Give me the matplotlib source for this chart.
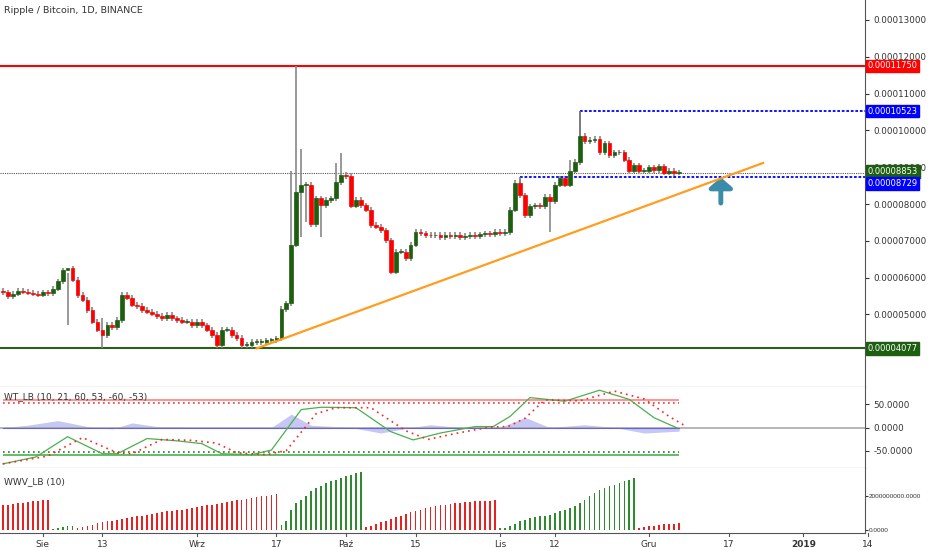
import matplotlib
matplotlib.use("Agg")
import matplotlib.pyplot as plt
import numpy as np

# ---- data (prices in 1e-8 BTC, day index 0 = Jul 24 2018) ----
closes = [5600,5500,5560,5650,5620,5590,5560,5540,
          5600,5580,5700,5900,6200,6250,5940,5530,5400,5120,
          4800,4580,4440,4720,4650,4850,5530,5450,5260,5230,
          5120,5070,5020,4960,4900,4990,4900,4850,4800,4800,4710,
          4800,4710,4580,4440,4170,4580,4580,4440,4360,4170,
          4170,4250,4250,4250,4300,4300,4350,5150,5300,6890,
          8330,8520,8520,7450,8160,7970,8110,8160,8600,8790,
          8760,7950,8110,7970,7840,7430,7380,7290,7020,6160,
          6700,6700,6530,6890,7240,7200,7160,7150,7160,7100,
          7160,7130,7160,7100,7130,7160,7120,7180,7200,7180,7240,
          7200,7240,7840,8570,8240,7700,7940,7970,7940,8190,
          8080,8520,8700,8520,8900,9140,9850,9700,9740,9780,
          9400,9650,9320,9400,9400,9200,8900,9050,8900,8900,
          9000,8920,9020,8850,8900,8853,8860]
first_open = 5650
high_override = {59: 11750, 60: 9500, 58: 8900, 68: 9380, 67: 9115, 116: 10523, 114: 9200, 13: 4700, 20: 4900}
low_override = {20: 4077, 49: 4077, 60: 7100, 61: 7500, 110: 7240, 64: 7100, 135: 8700}
default_wick = 70

wt_days = [0,6.6,13,20,23,29,35,40,44,50,54,60,64,71,78,82.5,88,95,98.6,102,106,113,120,126,131,135.6]
wt1 = [-79,-64,-20,-57,-57,-24,-29,-35,-57,-59,-49,39,44,43,-9,-27,-12,2,2,24,65,57,81,61,21,-1]
wt2_days = [0,9,16,23,26,32,38,43,47,53,57,63,67,74,81,85.5,91,98,101.6,105,109,116,123,129,134,137]
wt2 = [-79,-62,-22,-55,-57,-26,-28,-34,-55,-59,-50,30,43,43,-7,-26,-13,1,2,20,60,58,79,62,24,5]
blue_days = [0,5,11,18,22,26,31,40,50,54,58,62,70,76,82,86,92,100,105,110,117,123,129,136]
blue_vals = [0,5,15,0,-3,10,2,0,-2,0,29,5,0,-12,0,6,0,0,22,0,6,0,-12,-8]

wwv = [1.45,1.5,1.55,1.6,1.62,1.65,1.7,1.72,1.75,1.8,
       0.05,0.1,0.15,0.2,0.25,
       0.1,0.15,0.2,0.3,0.4,0.45,0.5,0.55,0.6,0.65,0.7,0.75,0.8,0.85,0.9,0.95,
       1.0,1.05,1.1,1.12,1.15,1.2,1.25,1.3,1.35,1.4,
       1.45,1.5,1.55,1.6,1.65,1.7,1.75,1.8,1.85,1.9,
       1.95,2.0,2.05,2.1,2.17,
       0.3,0.5,1.2,1.6,1.8,2.0,2.3,2.5,2.6,2.8,2.9,3.0,3.1,3.2,3.3,3.4,3.45,
       0.15,0.25,0.35,0.45,0.55,0.65,0.75,0.85,0.95,1.05,1.1,1.2,1.3,1.35,1.4,1.45,1.5,1.55,1.6,1.6,1.65,1.68,1.7,1.72,1.73,1.74,1.76,
       0.08,0.12,0.2,0.35,0.5,0.6,0.7,0.75,0.8,0.85,0.9,1.0,1.1,1.2,1.3,1.4,1.6,1.8,2.0,2.2,2.4,2.5,2.6,2.7,2.8,2.9,3.0,3.1,
       0.1,0.15,0.2,0.25,0.3,0.32,0.35,0.37,0.4]
wwv_sign = ['r']*10 + ['g']*5 + ['r']*41 + ['g']*17 + ['r']*27 + ['g']*28 + ['r']*9

tick_days = [8,20,39,55,69,83,100,111,130,146,161,174]
tick_labels = ['Sie','13','Wrz','17','Paź','15','Lis','12','Gru','17','2019','14']

level_red = 11750
level_green = 4077
level_last = 8853
level_blue_hi = 10523
level_blue_lo = 8729
trend_pts = ([51, 152.9], [4077, 9115])

# ---- figure ----
W, H = 932, 550
fig = plt.figure(figsize=(W/100, H/100), dpi=100)
fig.patch.set_facecolor('white')
R = 865
def ax_at(top, bottom):
    return fig.add_axes([0, 1-bottom/H, R/W, (bottom-top)/H])

ax = ax_at(0, 387)
ax2 = ax_at(387, 468)
ax3 = ax_at(468, 533)
xl = (-0.6, 173.4)
GREEN = '#1d5e10'; RED = '#ff0000'
for a in (ax, ax2, ax3):
    a.set_xlim(*xl)
    a.set_xticks([])
    for s in ('left', 'top'):
        a.spines[s].set_visible(False)
    a.spines['right'].set_color('#555555')
    a.spines['bottom'].set_color('#555555')
    a.yaxis.tick_right()
    a.tick_params(axis='y', labelsize=6.3, colors='#333333', length=3, pad=3)

# candles
sc = 1e-8
opens = [first_open] + closes[:-1]
for i, (o, c) in enumerate(zip(opens, closes)):
    hi = high_override.get(i, max(o, c) + default_wick)
    lo = low_override.get(i, min(o, c) - default_wick)
    col = GREEN if c >= o else RED
    ax.vlines(i, lo*sc, hi*sc, color='#888888', lw=1.2, zorder=2)
    b0, b1 = min(o, c), max(o, c)
    if b1 - b0 < 20:
        b1 = b0 + 20
    ax.bar(i, (b1-b0)*sc, bottom=b0*sc, width=0.75, color=col, edgecolor=col, lw=0.5, zorder=3)

ax.set_ylim(3029*sc, 13543*sc)
ax.set_yticks([v*sc for v in range(5000, 13001, 1000)])
ax.set_yticklabels(['%.8f' % (v*sc) for v in range(5000, 13001, 1000)])
ax.axhline(level_red*sc, color='#ff0000', lw=1.5, zorder=1)
ax.axhline(level_green*sc, color='#2b5e1a', lw=1.5, zorder=1)
ax.axhline(level_last*sc, color='#555555', lw=0.8, ls=(0, (1, 1)), zorder=1)
ax.hlines(level_blue_hi*sc, 116, xl[1], color='#0000ff', lw=1.3, ls=(0, (1.5, 1)))
ax.vlines(116, 9750*sc, level_blue_hi*sc, color='#777777', lw=1.2)
ax.hlines(level_blue_lo*sc, 104, xl[1], color='#0000ff', lw=1.3, ls=(0, (1.5, 1)))
ax.vlines(104, 8450*sc, level_blue_lo*sc, color='#777777', lw=1.2)
ax.plot(trend_pts[0], [v*sc for v in trend_pts[1]], color='#ff9d1f', lw=1.6, zorder=4)
ax.annotate('', xy=(144.4, 8800*sc), xytext=(144.4, 7950*sc),
            arrowprops=dict(arrowstyle='-|>,head_width=0.7,head_length=0.6', color='#3b8ca8', lw=3.5))
ax.text(0.005, 0.985, 'Ripple / Bitcoin, 1D, BINANCE', transform=ax.transAxes,
        fontsize=6.8, color='#333333', va='top', ha='left')
for lvl, ypos, colr in [(level_red, level_red, '#ff0000'), (level_blue_hi, level_blue_hi, '#0000ff'),
                        (level_last, 8880, '#1d5e10'), (level_blue_lo, 8560, '#0000ff'),
                        (level_green, level_green, '#1d5e10')]:
    ax.text(1.003, ypos*sc, '%.8f' % (lvl*sc), transform=ax.get_yaxis_transform(),
            fontsize=6.0, color='white', va='center', ha='left',
            bbox=dict(boxstyle='square,pad=0.2', fc=colr, ec=colr), clip_on=False, zorder=10)

# WT panel
ax2.set_ylim(-88, 88)
ax2.set_yticks([-50, 0, 50])
ax2.set_yticklabels(['-50.0000', '0.0000', '50.0000'])
ax2.fill_between(blue_days, 0, blue_vals, color='#9999ee', alpha=0.55, lw=0)
ax2.axhline(0, color='#aaaaaa', lw=1.2)
ax2.plot([0, 136], [0, 0], color='#6666cc', lw=0.8)
ax2.hlines(60, 0, 136, color='#ff8080', lw=1.2)
ax2.hlines(53, 0, 136, color='#ff3030', lw=1.2, ls=(0, (1, 2)))
ax2.hlines(-60, 0, 136, color='#4caf50', lw=1.2)
ax2.hlines(-53, 0, 136, color='#208020', lw=1.2, ls=(0, (1, 2)))
ax2.plot(wt_days, wt1, color='#4caf50', lw=0.9)
ax2.plot(wt2_days, wt2, color='#ff2020', lw=1.2, ls=(0, (1, 2.5)))
ax2.text(0.005, 0.94, 'WT_LB (10, 21, 60, 53, -60, -53)', transform=ax2.transAxes,
         fontsize=6.5, color='#333333', va='top')

# WWV panel
days = np.arange(len(wwv))
cols = ['#e82020' if s == 'r' else '#2e8b2e' for s in wwv_sign]
ax3.bar(days, [v*1e9 for v in wwv], width=0.35, color=cols)
ax3.set_ylim(-0.2e9, 3.7e9)
ax3.set_yticks([0, 2e9])
ax3.set_yticklabels(['0.0000', '2000000000.0000'])
ax3.tick_params(axis='y', pad=0.5, length=2)
for t in ax3.get_yticklabels():
    t.set_fontsize(4.6)
    t.set_fontfamily('Liberation Sans')
ax3.text(0.005, 0.86, 'WWV_LB (10)', transform=ax3.transAxes, fontsize=6.5, color='#333333', va='top')

# x tick labels
for d, lab in zip(tick_days, tick_labels):
    ax3.text(d, -0.11, lab, transform=ax3.get_xaxis_transform(), ha='center', va='top',
             fontsize=6.5, color='#333333', fontweight='bold' if lab == '2019' else 'normal', clip_on=False)
    ax3.plot([d, d], [0, -0.04], transform=ax3.get_xaxis_transform(), color='#555555', lw=0.8, clip_on=False)

fig.savefig('out.png', dpi=100)
